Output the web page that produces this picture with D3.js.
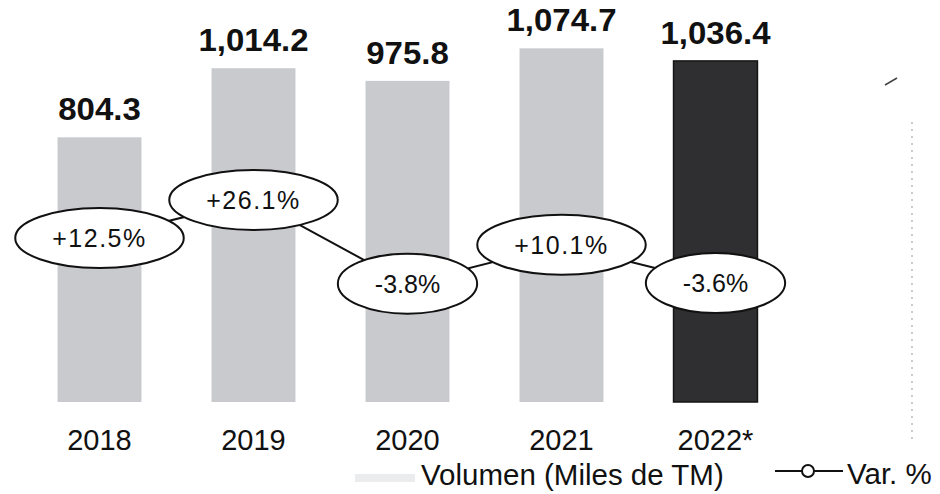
<!DOCTYPE html>
<html>
<head>
<meta charset="utf-8">
<script src="https://cdn.jsdelivr.net/npm/d3@7"></script>
<style>
  body { margin: 0; background: #fff; }
  text { font-family: "Liberation Sans", Arial, sans-serif; fill: #111; }
</style>
</head>
<body>
<script>
(function() {
    var w = 940,
        h = 494;

    // data
    var years = ['2018', '2019', '2020', '2021', '2022*'];
    var volumen = [804.3, 1014.2, 975.8, 1074.7, 1036.4];
    var varPct = [12.5, 26.1, -3.8, 10.1, -3.6];
    var volLabels = ['804.3', '1,014.2', '975.8', '1,074.7', '1,036.4'];
    var pctLabels = ['+12.5%', '+26.1%', '-3.8%', '+10.1%', '-3.6%'];
    var legendNames = ['Volumen (Miles de TM)', 'Var. %'];

    var svg = d3.select('body')
        .append('svg')
        .attr('width', w)
        .attr('height', h);

    var x = d3.scaleBand()
        .domain(years)
        .range([22.5, 792.5])
        .paddingInner(0.455)
        .paddingOuter(0.2275);

    var y = d3.scaleLinear()
        .domain([0, 1100])
        .range([402, 40]);

    // secondary scale for the % line (no axis drawn)
    var yp = d3.scaleLinear()
        .domain([-10, 30])
        .range([301, 189]);

    // bars
    svg.selectAll('rect.bar')
        .data(volumen)
        .enter()
        .append('rect')
        .attr('class', 'bar')
        .attr('x', function(d, i) { return x(years[i]); })
        .attr('width', x.bandwidth())
        .attr('y', function(d) { return y(d); })
        .attr('height', function(d) { return y(0) - y(d); })
        .attr('fill', function(d, i) { return i === 4 ? '#2f2f31' : '#c8cace'; })
        .attr('stroke', function(d, i) { return i === 4 ? '#151515' : 'none'; })
        .attr('stroke-width', 1.5);

    // value labels above bars (the source font is a bit wide, so stretch it)
    svg.selectAll('text.val')
        .data(volumen)
        .enter()
        .append('text')
        .attr('class', 'val')
        .attr('transform', function(d, i) {
            return 'translate(' + (x(years[i]) + x.bandwidth() / 2) + ',' + (y(d) - 17) + ') scale(1.1,1.02)';
        })
        .attr('text-anchor', 'middle')
        .style('font-size', '30px')
        .style('font-weight', 'bold')
        .text(function(d, i) { return volLabels[i]; });

    // category labels
    svg.selectAll('text.cat')
        .data(years)
        .enter()
        .append('text')
        .attr('class', 'cat')
        .attr('x', function(d) { return x(d) + x.bandwidth() / 2; })
        .attr('y', 450)
        .attr('text-anchor', 'middle')
        .style('font-size', '29px')
        .text(function(d) { return d; });

    // variation line
    var pts = varPct.map(function(v, i) {
        return [x(years[i]) + x.bandwidth() / 2, yp(v)];
    });
    svg.append('path')
        .attr('d', d3.line()(pts))
        .attr('fill', 'none')
        .attr('stroke', '#111')
        .attr('stroke-width', 2);

    // ellipse bubbles with % labels
    var bubble = svg.selectAll('g.bubble')
        .data(varPct)
        .enter()
        .append('g')
        .attr('class', 'bubble')
        .attr('transform', function(d, i) { return 'translate(' + pts[i][0] + ',' + pts[i][1] + ')'; });
    var ell = bubble.append('ellipse')
        .attr('fill', '#fff')
        .attr('stroke', '#111')
        .attr('stroke-width', 2)
        .attr('ry', 30);
    var lbl = bubble.append('text')
        .attr('text-anchor', 'middle')
        .attr('y', 9)
        .style('font-size', '25px')
        .style('letter-spacing', function(d) { return d > 0 ? '1.5px' : '0px'; })
        .text(function(d, i) { return pctLabels[i]; });
    ell.attr('rx', function(d, i) {
        var bb = lbl.nodes()[i].getBBox();
        return bb.width / 2 + 37;
    });

    // legend
    var leg = svg.append('g').attr('class', 'legend');
    leg.append('rect')
        .attr('x', 355)
        .attr('y', 474)
        .attr('width', 60)
        .attr('height', 8)
        .attr('fill', '#ebecee');
    leg.append('text')
        .attr('x', 421)
        .attr('y', 485)
        .style('font-size', '29.5px')
        .text(legendNames[0]);
    leg.append('line')
        .attr('x1', 775)
        .attr('x2', 843)
        .attr('y1', 471)
        .attr('y2', 471)
        .attr('stroke', '#111')
        .attr('stroke-width', 2);
    leg.append('circle')
        .attr('cx', 808)
        .attr('cy', 471)
        .attr('r', 6)
        .attr('fill', '#fff')
        .attr('stroke', '#111')
        .attr('stroke-width', 2);
    leg.append('text')
        .attr('x', 847)
        .attr('y', 484)
        .style('font-size', '29.5px')
        .text(legendNames[1]);

    // scan leftovers at the right edge
    svg.append('line')
        .attr('x1', 912).attr('x2', 912)
        .attr('y1', 122).attr('y2', 442)
        .attr('stroke', '#aaa')
        .attr('stroke-width', 1.2)
        .attr('stroke-dasharray', '2,5');
    svg.append('line')
        .attr('x1', 885).attr('x2', 897)
        .attr('y1', 85).attr('y2', 78)
        .attr('stroke', '#444')
        .attr('stroke-width', 1.5);
})();
</script>
</body>
</html>
